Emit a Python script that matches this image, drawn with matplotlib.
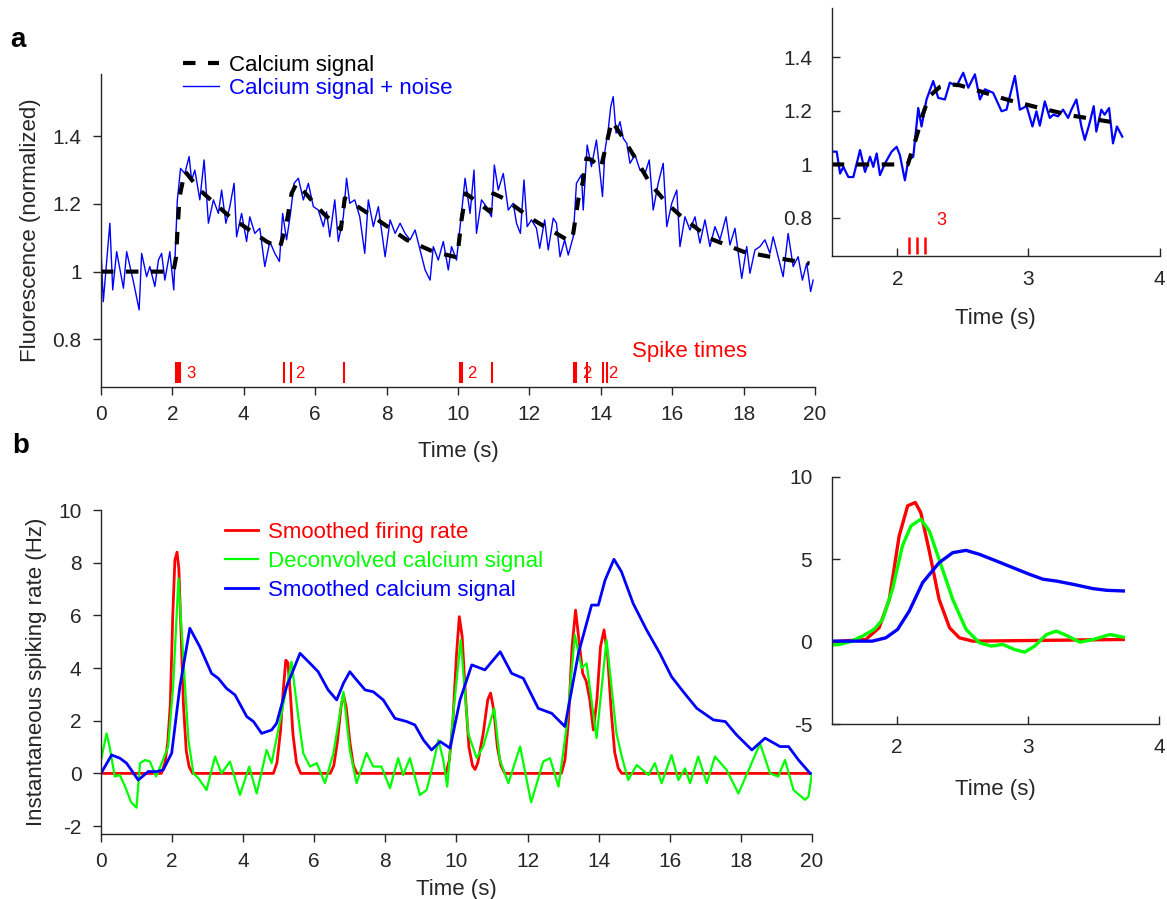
import matplotlib
matplotlib.use('Agg')
import matplotlib.pyplot as plt

plt.rcParams['font.family'] = ['Liberation Sans', 'DejaVu Sans']
plt.rcParams['font.size'] = 16
plt.rcParams['axes.unicode_minus'] = False

DARK = '#262626'

# ---------------- panel a data ----------------
calcium_pts = [(0, 1.0), (2.03, 1.0), (2.1, 1.04), (2.2, 1.22), (2.35, 1.297), (2.77, 1.241),
               (3.61, 1.162), (4.64, 1.089), (5.01, 1.069), (5.2, 1.143), (5.34, 1.231),
               (5.48, 1.261), (6.23, 1.172), (6.72, 1.125), (6.83, 1.217), (7.63, 1.162),
               (8.56, 1.094), (9.31, 1.059), (9.98, 1.042), (10.1, 1.153), (10.22, 1.231),
               (10.9, 1.177), (10.99, 1.231), (11.27, 1.217), (12.11, 1.153), (13.14, 1.089),
               (13.23, 1.113), (13.37, 1.212), (13.5, 1.266), (13.6, 1.335), (13.75, 1.33),
               (14.0, 1.305), (14.31, 1.445), (14.54, 1.409), (15.0, 1.33), (15.38, 1.261),
               (15.85, 1.202), (16.31, 1.158), (17.06, 1.098), (17.99, 1.059), (18.74, 1.044),
               (19.67, 1.027), (19.85, 1.024)]

noisy_pts = [(0, 1.069), (0.065, 0.911), (0.25, 1.143), (0.33, 0.946), (0.44, 1.059), (0.63, 0.951),
             (0.72, 1.059), (0.91, 0.97), (1.07, 0.887), (1.14, 1.054), (1.28, 0.985), (1.37, 1.015),
             (1.51, 0.956), (1.61, 1.034), (1.70, 1.054), (1.79, 0.975), (1.93, 1.059), (2.04, 0.946),
             (2.14, 1.212), (2.23, 1.305), (2.35, 1.29), (2.47, 1.34), (2.54, 1.27), (2.63, 1.30),
             (2.77, 1.212), (2.89, 1.33), (3.01, 1.143), (3.15, 1.212), (3.29, 1.172), (3.38, 1.241),
             (3.50, 1.143), (3.61, 1.192), (3.73, 1.261), (3.80, 1.103), (3.94, 1.172), (4.08, 1.089),
             (4.17, 1.162), (4.31, 1.113), (4.45, 1.128), (4.59, 1.015), (4.73, 1.089), (4.87, 1.054),
             (5.0, 1.030), (5.09, 1.172), (5.2, 1.094), (5.31, 1.172), (5.41, 1.261), (5.53, 1.276),
             (5.67, 1.212), (5.81, 1.261), (5.95, 1.192), (6.09, 1.182), (6.23, 1.133), (6.32, 1.177),
             (6.41, 1.103), (6.55, 1.212), (6.65, 1.089), (6.79, 1.162), (6.88, 1.276), (6.97, 1.202),
             (7.11, 1.212), (7.25, 1.162), (7.39, 1.054), (7.49, 1.212), (7.63, 1.133), (7.77, 1.192),
             (7.96, 1.044), (8.10, 1.153), (8.24, 1.113), (8.38, 1.143), (8.52, 1.113), (8.66, 1.094),
             (8.80, 1.123), (8.94, 1.064), (9.08, 1.005), (9.22, 0.975), (9.31, 1.074), (9.45, 1.034),
             (9.59, 1.089), (9.73, 1.005), (9.82, 1.074), (9.96, 1.034), (10.10, 1.172), (10.20, 1.276),
             (10.34, 1.172), (10.45, 1.30), (10.52, 1.113), (10.66, 1.212), (10.80, 1.192), (10.94, 1.162),
             (11.02, 1.315), (11.13, 1.241), (11.27, 1.29), (11.41, 1.182), (11.55, 1.202), (11.64, 1.143),
             (11.75, 1.113), (11.85, 1.271), (11.94, 1.133), (12.06, 1.153), (12.20, 1.128), (12.29, 1.069),
             (12.43, 1.153), (12.53, 1.064), (12.67, 1.158), (12.76, 1.143), (12.86, 1.044), (12.99, 1.094),
             (13.09, 1.049), (13.23, 1.103), (13.32, 1.261), (13.46, 1.286), (13.51, 1.182), (13.62, 1.374),
             (13.74, 1.310), (13.88, 1.389), (13.97, 1.30), (14.05, 1.222), (14.12, 1.359), (14.21, 1.419),
             (14.28, 1.487), (14.35, 1.517), (14.43, 1.409), (14.54, 1.443), (14.63, 1.394), (14.73, 1.379),
             (14.82, 1.32), (14.96, 1.345), (15.10, 1.30), (15.24, 1.29), (15.36, 1.33), (15.47, 1.182),
             (15.61, 1.261), (15.75, 1.32), (15.85, 1.133), (15.99, 1.202), (16.13, 1.241), (16.22, 1.074),
             (16.36, 1.162), (16.50, 1.123), (16.64, 1.162), (16.78, 1.084), (16.92, 1.153), (17.06, 1.074),
             (17.20, 1.133), (17.34, 1.094), (17.51, 1.162), (17.62, 1.079), (17.76, 1.128), (17.95, 0.980),
             (18.09, 1.074), (18.18, 0.995), (18.32, 1.064), (18.46, 1.074), (18.60, 1.094), (18.74, 1.054),
             (18.83, 1.103), (18.97, 1.044), (19.11, 0.985), (19.25, 1.113), (19.39, 1.015), (19.53, 1.044),
             (19.65, 0.975), (19.77, 1.025), (19.88, 0.941), (19.95, 0.975)]

spike_times = [2.09, 2.15, 2.21, 5.13, 5.32, 6.80, 10.05, 10.10, 10.96, 13.26, 13.31, 13.61, 14.06, 14.17]
count_times = [2.38, 5.45, 10.25, 13.47, 14.22]
count_labels = ['3', '2', '2', '2', '2']

# zoomed view of the first burst
zoom_noisy_pts = [(1.50, 1.048), (1.538, 1.048), (1.564, 0.966), (1.589, 0.991), (1.627, 0.953),
                  (1.665, 0.953), (1.716, 1.054), (1.754, 0.972), (1.792, 1.029), (1.817, 0.991),
                  (1.843, 1.041), (1.868, 0.960), (1.906, 1.004), (1.957, 1.048), (1.995, 1.066),
                  (2.02, 1.035), (2.058, 0.941), (2.084, 1.016), (2.122, 1.029), (2.16, 1.211),
                  (2.185, 1.142), (2.223, 1.243), (2.274, 1.312), (2.312, 1.249), (2.363, 1.243),
                  (2.401, 1.306), (2.452, 1.293), (2.503, 1.343), (2.541, 1.287), (2.592, 1.337),
                  (2.63, 1.243), (2.668, 1.281), (2.731, 1.268), (2.795, 1.199), (2.833, 1.205),
                  (2.897, 1.331), (2.935, 1.205), (2.986, 1.218), (3.031, 1.142), (3.061, 1.199),
                  (3.087, 1.145), (3.125, 1.236), (3.163, 1.174), (3.189, 1.186), (3.226, 1.180),
                  (3.264, 1.205), (3.303, 1.174), (3.328, 1.205), (3.366, 1.243), (3.404, 1.142),
                  (3.43, 1.092), (3.467, 1.155), (3.498, 1.218), (3.518, 1.123), (3.556, 1.205),
                  (3.581, 1.186), (3.615, 1.211), (3.645, 1.079), (3.675, 1.142), (3.716, 1.104)]
zoom_calcium_pts = [(1.5, 1.0), (2.08, 1.0), (2.147, 1.104), (2.198, 1.192), (2.244, 1.255),
                    (2.325, 1.29), (2.4, 1.30), (2.477, 1.296), (2.63, 1.274), (2.833, 1.243),
                    (3.087, 1.211), (3.34, 1.182), (3.72, 1.152)]
zoom_spike_times = [2.09, 2.15, 2.21]

# ---------------- panel b data ----------------
rate_pts = [(0, 0), (1.70, 0), (1.80, 0.4), (1.88, 1.2), (1.95, 2.6), (2.02, 6.0), (2.08, 8.1),
            (2.14, 8.4), (2.19, 7.8), (2.25, 5.5), (2.32, 2.6), (2.40, 0.85), (2.48, 0.25), (2.58, 0),
            (4.85, 0), (4.95, 0.4), (5.05, 1.6), (5.13, 3.2), (5.20, 4.3), (5.26, 4.2), (5.33, 3.0),
            (5.40, 1.5), (5.50, 0.4), (5.62, 0), (6.45, 0), (6.55, 0.3), (6.65, 1.2), (6.75, 2.5),
            (6.82, 3.0), (6.90, 2.5), (7.00, 1.2), (7.10, 0.3), (7.20, 0), (9.70, 0), (9.80, 0.5),
            (9.90, 2.0), (10.00, 4.5), (10.08, 5.95), (10.16, 5.2), (10.25, 3.0), (10.35, 1.0),
            (10.45, 0.3), (10.52, 0.15), (10.60, 0.4), (10.75, 1.5), (10.88, 2.8), (10.96, 3.05),
            (11.05, 2.4), (11.15, 1.0), (11.25, 0.3), (11.36, 0), (12.95, 0), (13.05, 0.5),
            (13.15, 2.0), (13.25, 4.8), (13.35, 6.2), (13.45, 5.0), (13.55, 3.8), (13.65, 3.5),
            (13.75, 2.8), (13.85, 1.65), (13.95, 2.8), (14.05, 4.8), (14.15, 5.45), (14.25, 4.5),
            (14.35, 2.4), (14.45, 0.8), (14.55, 0.2), (14.65, 0), (20, 0)]

deconv_pts = [(0, 0.5), (0.16, 1.52), (0.25, 0.96), (0.39, -0.12), (0.53, -0.06), (0.68, -0.5),
              (0.85, -1.1), (1.0, -1.3), (1.10, 0.39), (1.24, 0.51), (1.38, 0.45), (1.55, -0.12),
              (1.71, 0.39), (1.89, 1.02), (2.03, 3.3), (2.18, 7.4), (2.32, 4.3), (2.46, 1.27),
              (2.6, 0.0), (2.74, -0.18), (2.97, -0.63), (3.21, 0.64), (3.39, 0.0), (3.63, 0.45),
              (3.91, -0.82), (4.17, 0.26), (4.38, -0.76), (4.66, 0.89), (4.80, 0.39), (5.08, 2.28),
              (5.36, 4.24), (5.55, 2.16), (5.69, 0.77), (5.88, 0.26), (6.07, 0.39), (6.30, -0.37),
              (6.54, 0.77), (6.82, 3.1), (7.0, 0.89), (7.19, -0.37), (7.47, 0.77), (7.66, 0.26),
              (7.89, 0.26), (8.13, -0.56), (8.36, 0.58), (8.5, -0.06), (8.69, 0.58), (8.97, -0.82),
              (9.16, -0.63), (9.35, 0.39), (9.49, 1.27), (9.63, 0.51), (9.74, -0.5), (9.91, 2.28),
              (10.12, 5.07), (10.33, 1.52), (10.57, 0.58), (10.75, 1.02), (11.06, 2.47), (11.22, 0.51),
              (11.46, -0.37), (11.79, 1.02), (12.1, -1.1), (12.44, 0.45), (12.63, 0.58), (12.87, -0.5),
              (13.1, 1.78), (13.33, 5.26), (13.52, 4.0), (13.66, 4.18), (13.94, 1.34), (14.22, 5.07),
              (14.5, 1.52), (14.65, 0.64), (14.83, -0.25), (15.07, 0.32), (15.4, -0.06), (15.58, 0.39),
              (15.77, -0.37), (16.05, 0.70), (16.24, -0.25), (16.43, 0.19), (16.57, -0.37), (16.8, 0.64),
              (17.04, -0.37), (17.27, 0.64), (17.6, 0.13), (17.93, -0.76), (18.26, 0.26), (18.54, 1.14),
              (18.82, 0.0), (19.05, -0.12), (19.24, 0.51), (19.48, -0.63), (19.8, -1.0), (19.9, -0.88),
              (20.0, 0.0)]

smooth_pts = [(0, 0), (0.30, 0.70), (0.53, 0.58), (0.72, 0.39), (1.05, -0.25), (1.33, 0.07),
              (1.57, 0.07), (1.75, 0.13), (1.99, 0.77), (2.22, 3.3), (2.5, 5.51), (2.78, 4.81),
              (3.11, 3.80), (3.30, 3.61), (3.53, 3.23), (3.77, 2.98), (4.1, 2.16), (4.29, 1.97),
              (4.52, 1.52), (4.8, 1.65), (4.94, 1.90), (5.22, 3.29), (5.6, 4.56), (5.88, 4.18),
              (6.11, 3.86), (6.39, 3.17), (6.63, 2.79), (6.82, 3.42), (7.0, 3.86), (7.19, 3.55),
              (7.43, 3.17), (7.66, 3.10), (7.94, 2.79), (8.27, 2.09), (8.6, 1.97), (8.83, 1.84),
              (9.07, 1.27), (9.3, 0.89), (9.54, 1.21), (9.82, 0.96), (10.1, 2.79), (10.43, 4.12),
              (10.8, 3.93), (11.23, 4.62), (11.55, 3.8), (11.88, 3.61), (12.3, 2.47), (12.68, 2.28),
              (13.05, 1.78), (13.43, 4.56), (13.8, 6.39), (13.99, 6.39), (14.18, 7.34), (14.43, 8.13),
              (14.64, 7.66), (14.97, 6.45), (15.35, 5.44), (15.72, 4.56), (16.05, 3.67), (16.38, 3.10),
              (16.76, 2.47), (17.23, 2.03), (17.56, 1.97), (17.88, 1.46), (18.31, 0.89), (18.68, 1.34),
              (19.1, 1.02), (19.34, 1.02), (19.62, 0.51), (19.95, 0.0)]

zoom_rate_pts = [(1.5, 0), (1.76, 0.14), (1.862, 0.85), (1.94, 2.57), (2.015, 6.41), (2.08, 8.24),
                 (2.138, 8.44), (2.18, 7.83), (2.245, 5.5), (2.32, 2.57), (2.4, 0.85), (2.475, 0.24),
                 (2.577, 0.04), (3.727, 0.14)]
zoom_deconv_pts = [(1.5, -0.2), (1.556, -0.16), (1.632, -0.02), (1.734, 0.34), (1.824, 0.75),
                   (1.888, 1.35), (1.964, 3.18), (2.04, 5.81), (2.105, 7.02), (2.18, 7.43),
                   (2.245, 6.72), (2.32, 5.0), (2.424, 2.57), (2.526, 0.75), (2.628, -0.06),
                   (2.718, -0.26), (2.807, -0.16), (2.897, -0.47), (2.973, -0.63), (3.05, -0.26),
                   (3.14, 0.44), (3.216, 0.65), (3.305, 0.34), (3.395, -0.02), (3.497, 0.14),
                   (3.625, 0.44), (3.727, 0.28)]
zoom_smooth_pts = [(1.5, 0.04), (1.81, 0.04), (1.913, 0.24), (2.003, 0.75), (2.092, 1.86),
                   (2.194, 3.58), (2.32, 4.79), (2.424, 5.4), (2.526, 5.54), (2.628, 5.3),
                   (2.756, 4.9), (2.884, 4.49), (3.01, 4.09), (3.114, 3.79), (3.216, 3.68),
                   (3.344, 3.48), (3.497, 3.22), (3.6, 3.12), (3.727, 3.08)]


def xy(pts):
    return [p[0] for p in pts], [p[1] for p in pts]


def style(ax, inward=False):
    for s in ['top', 'right']:
        ax.spines[s].set_visible(False)
    for s in ['left', 'bottom']:
        ax.spines[s].set_color(DARK)
        ax.spines[s].set_linewidth(1.0)
    ax.tick_params(labelsize=15)
    if inward:
        ax.tick_params(direction='in', length=6, width=1, color=DARK, labelcolor=DARK)
        ax.tick_params(axis='y', pad=14)
        ax.tick_params(axis='x', pad=10)
    else:
        ax.tick_params(direction='out', length=6, width=1, color=DARK, labelcolor=DARK)
        ax.tick_params(axis='y', pad=8)
        ax.tick_params(axis='x', pad=7)


fig = plt.figure(figsize=(11.67, 8.99), dpi=100)

# ---- a: main
ax1 = fig.add_axes([0.0865, 0.5695, 0.6118, 0.3482])
ct, cv = xy(calcium_pts)
nt, nv = xy(noisy_pts)
ax1.plot(nt, nv, color='#0000ff', lw=1.0, label='Calcium signal + noise')
ax1.plot(ct, cv, color='black', lw=3, dashes=(3, 3), label='Calcium signal')
ax1.vlines(spike_times, 0.672, 0.732, color='red', lw=1.5)
for t, s in zip(count_times, count_labels):
    ax1.text(t, 0.70, s, color='red', fontsize=12, ha='left', va='center')
ax1.text(14.87, 0.765, 'Spike times', color='red', fontsize=16, ha='left', va='center')
ax1.set_xlim(0, 20)
ax1.set_ylim(0.659, 1.584)
ax1.set_xticks(range(0, 21, 2))
ax1.set_yticks([0.8, 1.0, 1.2, 1.4])
ax1.set_yticklabels(['0.8', '1', '1.2', '1.4'])
ax1.set_xlabel('Time (s)', color=DARK, labelpad=12)
ax1.set_ylabel('Fluorescence (normalized)', color=DARK, labelpad=8)
style(ax1)
h, l = ax1.get_legend_handles_labels()
leg = ax1.legend([h[1], h[0]], [l[1], l[0]], loc='upper left',
                 bbox_to_anchor=(183 / 1167, 1 - 55 / 899), bbox_transform=fig.transFigure,
                 frameon=False, handlelength=1.6, handletextpad=0.45, labelspacing=0.1,
                 borderpad=0, borderaxespad=0)
for txt, c in zip(leg.get_texts(), ['black', '#0000ff']):
    txt.set_color(c)

# ---- a: inset
ax2 = fig.add_axes([0.7127, 0.7156, 0.2809, 0.2752])
zt, zv = xy(zoom_noisy_pts)
zct, zcv = xy(zoom_calcium_pts)
ax2.plot(zt, zv, color='#0000ff', lw=1.6)
ax2.plot(zct, zcv, color='black', lw=3, dashes=(3, 3))
ax2.vlines(zoom_spike_times, 0.667, 0.73, color='red', lw=1.8)
ax2.text(2.30, 0.79, '3', color='red', fontsize=13, ha='left', va='center')
ax2.set_xlim(1.5, 4)
ax2.set_ylim(0.659, 1.584)
ax2.set_xticks([2, 3, 4])
ax2.set_yticks([0.8, 1.0, 1.2, 1.4])
ax2.set_yticklabels(['0.8', '1', '1.2', '1.4'])
ax2.set_xlabel('Time (s)', color=DARK, labelpad=14)
style(ax2, inward=True)

# ---- b: main
ax3 = fig.add_axes([0.0865, 0.0723, 0.6093, 0.3604])
rt, rv = xy(rate_pts)
dt, dv = xy(deconv_pts)
st, sv = xy(smooth_pts)
ax3.plot(rt, rv, color='#ff0000', lw=2.0, label='Smoothed firing rate')
ax3.plot(dt, dv, color='#00ff00', lw=1.6, label='Deconvolved calcium signal')
ax3.plot(st, sv, color='#0000ff', lw=2.0, label='Smoothed calcium signal')
ax3.set_xlim(0, 20)
ax3.set_ylim(-2.3, 10)
ax3.set_xticks(range(0, 21, 2))
ax3.set_yticks(range(-2, 11, 2))
ax3.set_xlabel('Time (s)', color=DARK, labelpad=6)
ax3.set_ylabel('Instantaneous spiking rate (Hz)', color=DARK, labelpad=8)
style(ax3)
leg2 = ax3.legend(loc='upper left', bbox_to_anchor=(225 / 1167, 1 - 522 / 899),
                  bbox_transform=fig.transFigure, frameon=False, handlelength=1.5,
                  handletextpad=0.45, labelspacing=0.35, borderpad=0, borderaxespad=0)
for txt, c in zip(leg2.get_texts(), ['#ff0000', '#00ff00', '#0000ff']):
    txt.set_color(c)

# ---- b: inset
ax4 = fig.add_axes([0.7127, 0.1943, 0.2805, 0.2754])
a, b = xy(zoom_rate_pts)
ax4.plot(a, b, color='#ff0000', lw=2.4)
a, b = xy(zoom_deconv_pts)
ax4.plot(a, b, color='#00ff00', lw=2.4)
a, b = xy(zoom_smooth_pts)
ax4.plot(a, b, color='#0000ff', lw=2.4)
ax4.set_xlim(1.5, 4)
ax4.set_ylim(-5, 10)
ax4.set_xticks([2, 3, 4])
ax4.set_yticks([-5, 0, 5, 10])
ax4.set_xlabel('Time (s)', color=DARK, labelpad=16)
style(ax4, inward=True)

fig.text(10 / 1167, 1 - 40 / 899, 'a', fontsize=20, fontweight='bold', va='center', ha='left')
fig.text(12 / 1167, 1 - 446 / 899, 'b', fontsize=20, fontweight='bold', va='center', ha='left')

fig.savefig('out.png', dpi=100)
